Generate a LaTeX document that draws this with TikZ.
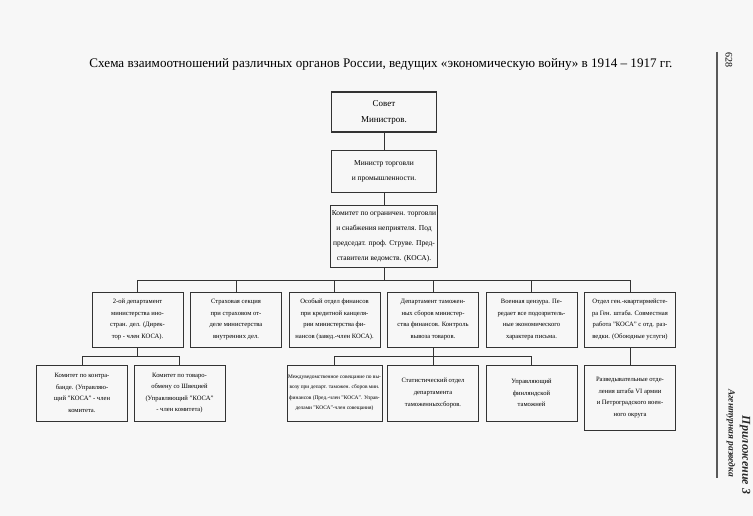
\documentclass[tikz,border=0pt]{standalone}
\usepackage{fontspec}
\setmainfont{Liberation Serif}
\usetikzlibrary{positioning}

\tikzset{
    box/.style = {draw = black!80, line width = 0.7pt, align = center, inner sep = 1pt,
        minimum width = 91pt, minimum height = 55pt, font = \fontsize{6.6}{11.6}\selectfont},
    topbox/.style = {box, minimum width = 105pt, font = \fontsize{7.5}{15}\selectfont},
    lowbox/.style = {box, minimum height = 56pt},
    link/.style = {draw = black!80, line width = 0.7pt},
    margin/.style = {font = \bfseries\itshape, rotate = -90, text = black!85}
}

\begin{document}
\begin{tikzpicture}[x = 1pt, y = -1pt]
    \useasboundingbox (0, 0) rectangle (753, 516);
    \fill [gray!6] (0, 0) rectangle (753, 516);

    % title
    \node (title) at (381, 64) {\fontsize{13.1}{15}\selectfont Схема взаимоотношений различных органов России, ведущих «экономическую войну» в 1914 – 1917 гг.};

    % top of the scheme
    \node [topbox, minimum height = 40pt, line width = 1.8pt, font = \fontsize{9}{16}\selectfont] (sovet) at (384, 112) {Совет\\Министров.};
    \node [topbox, minimum height = 42pt] (ministr) at (384, 171) {Министр торговли\\и промышленности.};
    \node [topbox, minimum height = 62pt] (kosa) at (384, 236) {Комитет по ограничен. торговли\\и снабжения неприятеля. Под\\председат. проф. Струве. Пред-\\ставители ведомств. (КОСА).};

    % second row
    \node [box] (dep1) at (137.5, 319.5) {2-ой департамент\\министерства ино-\\стран. дел. (Дирек-\\тор - член КОСА).};
    \node [box] (dep2) at (236, 319.5) {Страховая секция\\при страховом от-\\деле министерства\\внутренних дел.};
    \node [box] (dep3) at (334.5, 319.5) {Особый отдел финансов\\при кредитной канцеля-\\рии министерства фи-\\нансов (завед.-член КОСА).};
    \node [box] (dep4) at (433, 319.5) {Департамент таможен-\\ных сборов министер-\\ства финансов. Контроль\\вывоза товаров.};
    \node [box] (dep5) at (531.5, 319.5) {Военная цензура. Пе-\\редает все подозритель-\\ные экономического\\характера письма.};
    \node [box] (dep6) at (630, 319.5) {Отдел ген.-квартирмейсте-\\ра Ген. штаба. Совместная\\работа "КОСА" с отд. раз-\\ведки. (Обоюдные услуги)};

    % third row
    \node [lowbox] (kontra) at (82, 393) {Комитет по контра-\\банде. (Управляю-\\щий "КОСА" - член\\комитета.};
    \node [lowbox] (tovar) at (179.5, 393) {Комитет по товаро-\\обмену со Швецией\\(Управляющий "КОСА"\\- член комитета)};
    \node [lowbox, font = \fontsize{5.4}{10.5}\selectfont] (vyvoz) at (334.5, 393) {Междуведомственное совещание по вы-\\возу при департ. таможен. сборов мин.\\финансов (Пред.-член "КОСА". Управ-\\делами "КОСА"-член совещания)};
    \node [lowbox] (stat) at (433, 393) {Статистический отдел\\департамента\\таможенныхсборов.};
    \node [lowbox] (tamozh) at (531.5, 393) {Управляющий\\финляндской\\таможней};
    \node [lowbox, minimum height = 65pt] (razved) at (630, 397.5) {Разведывательные отде-\\ления штаба VI армии\\и Петроградского воен-\\ного округа};

    % connectors
    \coordinate (bus) at (384, 280);
    \coordinate (lbus) at (137.5, 356);
    \coordinate (rbus) at (433, 356);
    \draw [link] (sovet) -- (ministr);
    \draw [link] (ministr) -- (kosa);
    \draw [link] (kosa) -- (bus);
    \foreach \d in {dep1, dep2, dep3, dep4, dep5, dep6}
        \draw [link] (bus) -| (\d);
    \draw [link] (dep1) -- (lbus);
    \draw [link] (lbus) -| (kontra);
    \draw [link] (lbus) -| (tovar);
    \draw [link] (dep4) -- (rbus);
    \foreach \d in {vyvoz, stat, tamozh}
        \draw [link] (rbus) -| (\d);
    \draw [link] (dep6) -- (razved);

    % page margin
    \coordinate (rtop) at (717, 52);
    \coordinate (rbot) at (717, 478);
    \draw [gray!70!black, line width = 1.4pt] (rtop) -- (rbot);
    \node [rotate = -90, font = \fontsize{10}{12}\selectfont] (page) at (729, 60) {628};
    \node [margin, font = \fontsize{9.5}{12}\bfseries\itshape] (book) at (731, 433) {Агентурная разведка};
    \node [margin, font = \fontsize{12}{14}\bfseries\itshape] (appendix) at (745, 455) {Приложение 3};
\end{tikzpicture}
\end{document}
